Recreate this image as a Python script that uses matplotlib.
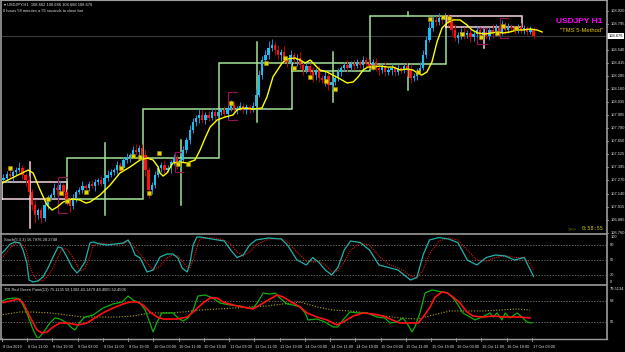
import matplotlib
matplotlib.use("Agg")
import matplotlib.pyplot as plt
import numpy as np
from matplotlib.lines import Line2D

# ---------------- data ----------------
first_open = 107.270
close = [107.293,107.331,107.312,107.351,107.370,107.390,107.322,107.273,107.156,107.030,
         106.933,106.981,106.904,107.030,107.098,107.127,107.195,107.176,107.224,107.156,
         107.079,107.020,107.098,107.156,107.176,107.214,107.195,107.234,107.214,107.253,
         107.273,107.234,107.293,107.322,107.351,107.370,107.419,107.390,107.468,107.487,
         107.516,107.565,107.545,107.584,107.516,107.370,107.176,107.224,107.322,107.390,
         107.419,107.370,107.390,107.448,107.487,107.419,107.468,107.565,107.662,107.760,
         107.837,107.876,107.905,107.857,107.905,107.876,107.934,107.895,107.934,107.954,
         107.915,107.973,108.003,107.954,107.973,107.993,107.954,107.983,107.954,107.993,
         108.100,108.294,108.440,108.489,108.557,108.586,108.538,108.489,108.518,108.440,
         108.421,108.489,108.440,108.460,108.392,108.343,108.382,108.324,108.294,108.343,
         108.265,108.246,108.285,108.197,108.226,108.265,108.324,108.363,108.392,108.363,
         108.401,108.382,108.421,108.392,108.440,108.401,108.382,108.421,108.363,108.343,
         108.382,108.324,108.343,108.363,108.324,108.363,108.343,108.382,108.343,108.265,
         108.285,108.324,108.363,108.489,108.635,108.752,108.830,108.810,108.849,108.830,
         108.859,108.810,108.732,108.654,108.684,108.713,108.684,108.703,108.664,108.693,
         108.732,108.684,108.713,108.674,108.732,108.703,108.752,108.713,108.781,108.732,
         108.761,108.752,108.723,108.761,108.732,108.752,108.713,108.742,108.676]
wick_up = [4,3,5,2,3,6,3,2,4,3, 5,2,3,4,3,2,5,3,4,2, 3,3,4,2,3,5,2,3,4,3,
           2,4,3,5,3,2,4,3,3,5, 2,4,6,3,4,5,3,3,4,2, 3,5,3,2,4,3,2,4,3,5,
           4,3,6,5,3,4,4,3,3,2, 4,3,5,3,2,4,3,3,2,4, 6,5,4,5,7,6,4,5,3,6,
           4,5,3,4,6,3,4,3,5,2, 4,3,5,3,4,3,4,2,3,5, 3,4,3,2,4,3,5,3,4,2,
           3,4,3,5,3,4,2,3,4,5, 3,4,6,5,4,6,5,4,5,3, 4,3,5,6,3,4,5,3,6,3,
           4,3,5,4,3,6,4,3,5,3, 4,3,2,3,4,3,2,3,2]
wick_dn = [3,4,2,5,3,2,4,6,3,5, 8,4,5,3,4,2,3,5,3,4, 5,6,3,4,2,3,4,3,2,5,
           3,2,4,3,2,3,4,3,2,3, 4,3,2,5,4,6,8,4,3,2, 4,3,2,5,3,4,3,2,3,4,
           3,4,5,3,4,3,2,4,3,3, 2,4,3,3,4,2,3,4,3,2, 3,2,4,3,4,3,5,4,6,3,
           5,4,3,6,4,5,3,4,7,5, 4,3,6,5,4,3,3,4,3,4, 3,4,2,3,4,3,2,4,3,5,
           3,4,3,5,4,3,4,3,6,5, 3,4,3,2,3,2,3,4,3,4, 5,4,6,3,5,4,4,3,5,4,
           3,5,4,3,4,5,3,4,3,4, 3,4,3,2,3,4,3,2,2]
bid = 108.676

ma_x = [-0.5,2.1,5.2,7.8,9.4,11.6,13.8,15.4,17.0,18.9,21.7,24.2,26.1,27.4,30.6,33.8,36.9,40.1,
        43.3,45.5,47.4,49.0,49.6,50.6,51.8,53.7,55.9,58.2,60.7,62.3,63.9,65.5,67.7,70.2,72.7,
        74.0,75.9,79.1,81.9,83.5,85.4,88.3,89.9,92.4,94.0,95.6,97.2,98.7,100.3,102.5,104.4,
        106.7,108.9,110.8,112.4,114.0,115.5,117.1,119.3,121.6,123.5,125.7,127.9,129.8,131.1,
        132.6,134.2,135.8,137.4,139.0,140.6,142.5,144.7,146.9,148.5,150.4,152.6,154.8,156.4,
        158.3,160.5,162.8,164.7,166.9,169.1,170.7]
ma_y = [107.244,107.283,107.331,107.370,107.341,107.176,107.030,106.981,107.010,107.059,
        107.088,107.079,107.049,107.059,107.127,107.224,107.341,107.400,107.468,107.487,
        107.468,107.400,107.341,107.312,107.341,107.439,107.448,107.439,107.468,107.565,
        107.682,107.789,107.857,107.886,107.905,107.954,107.973,107.964,107.973,108.080,
        108.275,108.411,108.450,108.460,108.440,108.411,108.440,108.392,108.343,108.324,
        108.294,108.256,108.217,108.226,108.275,108.343,108.372,108.372,108.382,108.372,
        108.372,108.343,108.353,108.343,108.314,108.294,108.324,108.421,108.616,108.752,
        108.800,108.830,108.830,108.781,108.732,108.703,108.693,108.703,108.713,108.703,
        108.713,108.732,108.732,108.742,108.732,108.713]

dot_x = [2.1,14.1,18.2,20.1,26.1,37.2,41.0,43.3,46.1,49.3,55.3,58.5,72.1,83.2,89.2,92.1,
         97.1,102.2,105.1,117.1,131.4,135.2,139.3,141.2,145.3,151.4,156.4,158.3,162.4]
dot_y = [107.390,107.088,107.146,107.069,107.156,107.390,107.507,107.497,107.146,107.536,
         107.429,107.429,108.022,108.411,108.460,108.363,108.275,108.236,108.158,108.372,
         108.324,108.839,108.859,108.849,108.693,108.664,108.703,108.771,108.752]

# daily boxes: x0, x1, top, bottom, kind (1 = up day, 0 = down day)
box_x0 = [-0.5, 20.1, 44.2, 68.3, 91.4, 116.2, 140.3]
box_x1 = [20.1, 44.2, 68.3, 91.4, 116.2, 140.3, 164.3]
box_top = [107.257, 107.487, 107.963, 108.411, 108.411, 108.868, 108.868]
box_bot = [107.088, 107.088, 107.487, 107.963, 108.333, 108.401, 108.761]
box_up = [0, 1, 1, 1, 1, 1, 0]
# daily range sticks
stick_x = [8.4, 32.2, 56.3, 80.4, 104.4, 128.2, 128.2, 152.3]
stick_lo = [106.806, 106.933, 107.030, 107.837, 108.032, 108.868, 108.149, 108.557]
stick_hi = [107.448, 107.633, 107.662, 108.616, 108.518, 108.907, 108.401, 108.752]
stick_up = [0, 1, 1, 1, 1, 1, 1, 0]
# small brackets
br_x0 = [17.3, 54.4, 71.2, 150.1, 157.4]
br_x1 = [20.1, 56.9, 74.0, 153.3, 159.9]
br_top = [107.302, 107.545, 108.129, 108.752, 108.849]
br_bot = [106.952, 107.351, 107.857, 108.596, 108.654]

price_ticks = [108.920,108.795,108.540,108.415,108.285,108.160,108.035,107.905,107.780,
               107.650,107.525,107.395,107.270,107.140,107.015,106.885,106.760]

st_x = [-1.1,0.5,2.1,3.6,5.2,6.2,7.4,8.1,9.4,10.9,12.5,14.1,15.7,17.3,18.5,20.1,21.7,23.3,
        24.2,25.8,27.4,28.4,30.6,32.8,35.3,37.9,39.5,40.7,41.7,43.3,45.5,47.4,49.6,51.8,53.7,
        55.3,56.6,58.2,59.1,60.1,61.3,62.3,
        66,70,72,74,76,78,80,84,88,90,93,96,98,100,102,104,106,108,110,113,116,119,122,125,
        127,129,131,133,135,138,141,144,147,150,153,156,159,162,165,167,168]
st_main = [60,70,82,86,84,70,44,10,6,8,16,34,56,76,74,56,36,24,30,46,84,86,82,80,82,84,90,
           76,60,54,26,30,56,62,62,54,34,26,44,80,96,96,
           92,88,70,55,60,80,90,94,92,80,50,40,55,45,30,20,35,70,88,85,70,40,35,30,20,10,15,
           60,90,95,92,85,50,40,55,60,58,50,55,30,17]
st_sig = [50,62,74,82,85,80,66,42,20,8,9,18,34,56,72,72,58,40,28,32,58,78,84,82,81,83,86,
          84,74,62,44,30,38,54,60,58,48,36,34,50,76,92,
          95,90,82,66,58,66,80,92,93,86,66,48,46,48,40,28,28,46,70,84,80,58,42,34,28,18,14,
          30,62,88,94,90,70,50,48,55,59,55,54,42,28]
st_levels = [80, 50, 20]

tg_x = [-1.1,1.1,3.6,5.2,7.4,9.4,10.9,12.5,14.7,16.3,17.9,20.1,21.7,22.7,24.2,25.8,28.4,31.5,
        34.7,37.6,39.5,41.0,43.3,44.9,46.4,47.4,48.7,50.2,51.8,53.7,55.3,56.9,58.5,60.1,61.6,
        63.9,66.4,68.6,71.8,75.0,77.2,79.1,80.4,82.3,84.5,86.1,87.6,89.9,91.8,94.0,95.6,96.5,
        99.4,101.9,104.4,106.0,107.6,109.8,112.4,115.2,118.4,120.9,122.5,124.7,126.6,128.2,
        129.5,130.4,132.0,133.6,135.8,137.4,139.0,140.9,142.5,144.1,145.6,147.9,149.4,151.7,
        154.2,155.2,156.4,158.0,159.0,160.5,162.8,164.3,165.9,167.5]
tg_v = [66.9,69.5,70.3,69.5,57.5,42.9,35.2,40.3,48.9,53.2,52.3,48.9,44.6,42.9,49.7,54.0,55.7,
        61.7,65.2,66.9,72.0,68.6,66.0,60.0,48.9,41.2,49.7,57.5,57.5,57.5,53.2,50.6,53.2,60.0,
        72.0,72.9,70.3,66.0,64.3,63.5,61.7,61.7,66.0,74.6,73.7,74.6,70.3,65.2,64.3,62.6,57.5,
        51.5,52.3,49.7,45.5,45.5,51.5,58.3,57.5,57.5,54.0,53.2,48.9,49.7,53.2,47.2,41.2,45.5,
        57.5,74.6,77.2,76.3,75.5,74.6,70.3,64.3,57.5,54.0,51.5,54.0,57.5,54.0,57.5,51.5,57.5,
        53.2,57.5,54.0,49.7,48.9]
tr_x = [-1.1,2.1,4.6,6.2,8.4,10.6,12.2,13.8,15.7,17.9,20.1,22.0,23.6,26.5,29.0,31.5,34.7,37.9,
        40.1,42.3,44.2,46.4,48.7,50.6,52.8,55.0,58.2,60.1,63.2,65.5,67.7,69.6,72.7,75.9,79.1,
        82.3,84.5,86.7,88.6,90.8,94.0,96.2,99.4,102.5,105.7,107.6,110.8,114.0,117.1,120.3,
        122.5,125.7,128.9,131.4,133.0,135.2,136.8,139.0,140.6,142.5,144.7,146.9,148.8,152.0,
        155.2,158.3,161.5,163.7,166.9]
tr_v = [66.0,67.7,69.5,66.0,54.0,42.9,40.3,41.2,45.5,48.9,48.9,48.0,47.2,48.9,53.2,57.5,61.7,
        65.2,66.9,66.9,64.3,58.3,54.0,52.3,52.3,52.3,54.0,58.3,66.0,70.3,70.3,66.9,64.3,62.6,
        60.9,66.0,69.5,72.9,71.2,67.7,62.6,57.5,54.0,51.5,47.2,49.7,54.9,57.5,56.6,54.9,52.3,
        48.9,48.9,48.9,54.0,62.6,71.2,75.5,74.6,71.2,66.0,58.3,54.9,54.0,54.9,54.0,54.0,54.0,
        53.2]
ty_x = [-1.1,5.2,9.4,14.7,25.2,30.6,36.0,41.0,46.4,51.8,56.9,62.3,67.7,72.7,78.1,83.5,88.6,
        94.0,99.4,104.4,109.8,115.2,120.3,125.7,131.1,136.1,141.5,146.9,152.0,157.4,162.8,166.9]
ty_v = [55.7,58.3,58.3,57.5,54.0,54.0,54.0,54.9,57.5,57.5,58.3,60.0,60.9,61.7,62.6,63.5,65.2,
        66.9,62.6,60.0,59.2,57.5,54.9,53.2,52.3,55.7,59.2,59.2,59.2,60.0,60.9,60.0]
tdi_levels = [68, 50]

time_idx = [0, 8, 16, 24, 32, 40, 48, 56, 64, 72, 80, 88, 96, 104, 112, 120, 128, 136, 144,
            152, 160, 168]
time_labels = ["8 Oct 2019", "8 Oct 11:00", "8 Oct 19:00", "9 Oct 03:00", "9 Oct 11:00",
               "9 Oct 19:00", "10 Oct 03:00", "10 Oct 11:00", "10 Oct 19:00", "11 Oct 03:00",
               "11 Oct 11:00", "11 Oct 19:00", "14 Oct 03:00", "14 Oct 11:00", "14 Oct 19:00",
               "15 Oct 03:00", "15 Oct 11:00", "15 Oct 19:00", "16 Oct 03:00", "16 Oct 11:00",
               "16 Oct 19:00", "17 Oct 03:00"]

# ---------------- figure ----------------
W, H = 625, 352
fig = plt.figure(figsize=(W / 100, H / 100), dpi=100, facecolor='black')

def px_axes(x0, y0, x1, y1):
    a = fig.add_axes([x0 / W, 1 - y1 / H, (x1 - x0) / W, (y1 - y0) / H])
    a.set_facecolor('black')
    a.axis('off')
    a.set_xlim(-0.475, 190.96)
    return a

def fline(xs, ys, **kw):
    fig.add_artist(Line2D([x / W for x in xs], [1 - y / H for y in ys],
                          transform=fig.transFigure, **kw))

ax = px_axes(2, 1, 606, 233.5)
ax.set_ylim(106.753, 109.014)
ax_st = px_axes(2, 235, 606, 285)
ax_st.set_ylim(0, 100)
ax_td = px_axes(2, 286, 606, 338)
ax_td.set_ylim(36.03, 80.6)

SMALL = 2.9
TXT = '#e0e0e0'
FONT = 'Liberation Sans'

# bid line
ax.axhline(bid, color='#3a3a3a', lw=0.8, zorder=1)

# daily boxes & sticks
GREEN = '#a3e296'
PINK = '#f3d6df'
for x0, x1, t, b, u in zip(box_x0, box_x1, box_top, box_bot, box_up):
    c = GREEN if u else PINK
    ax.plot([x0, x0, x1, x1, x0], [b, t, t, b, b], color=c, lw=1.1, zorder=2,
            solid_joinstyle='miter')
for x, lo, hi, u in zip(stick_x, stick_lo, stick_hi, stick_up):
    ax.plot([x, x], [lo, hi], color=GREEN if u else PINK, lw=1.1, zorder=2)
for x0, x1, t, b in zip(br_x0, br_x1, br_top, br_bot):
    ax.plot([x1, x0, x0, x1], [t, t, b, b], color='#8a1550', lw=0.9, zorder=2)

# candles
close_a = np.array(close)
idx = np.arange(len(close_a))
opn = np.r_[first_open, close_a[:-1]]
hi = np.maximum(opn, close_a) + np.array(wick_up) * 0.01
lo = np.minimum(opn, close_a) - np.array(wick_dn) * 0.01
bull = close_a >= opn
body_c = np.where(bull, '#18c0f5', '#ff1010')
wick_c = np.where(bull, '#1e90e0', '#c00000')
ax.vlines(idx, lo, hi, colors=wick_c, lw=0.7, zorder=3)
heights = np.maximum(np.abs(close_a - opn), 0.005)
ax.bar(idx, heights, bottom=np.minimum(opn, close_a), width=0.72, color=body_c,
       edgecolor='none', zorder=4)

# MA line and dots
ax.plot(ma_x, ma_y, color='#ffff00', lw=1.0, zorder=5)
ax.plot(dot_x, dot_y, ls='none', marker='s', ms=2.6, mfc='#e8d200', mec='#a08c00',
        mew=0.4, zorder=6)

# price axis labels
yt = ax.get_yaxis_transform()
for p in price_ticks:
    ax.text(1.007, p, f"{p:.3f}", transform=yt, fontsize=SMALL, color=TXT,
            va='center', ha='left', family=FONT, clip_on=False)
    ax.plot([1.0, 1.004], [p, p], transform=yt, color='#9a9a9a', lw=0.6, clip_on=False)
ax.text(1.004, bid, f"{bid:.3f}", transform=yt, fontsize=SMALL, color='black',
        va='center', ha='left', family=FONT, clip_on=False,
        bbox=dict(facecolor='white', edgecolor='none', pad=0.7))

# titles and labels in main chart
fig.text(4 / W, 1 - 5 / H, "\u25be USDJPY,H1  108.662 108.686 108.668 108.676",
         fontsize=SMALL, color=TXT, va='center', ha='left', family=[FONT, 'DejaVu Sans'])
fig.text(3 / W, 1 - 11 / H, "0 hours 58 minutes a 55 seconds to close bar",
         fontsize=SMALL, color=TXT, va='center', ha='left', family=FONT)
fig.text(602 / W, 1 - 21.5 / H, "USDJPY H1", fontsize=6.0, color='#ff00ff',
         fontweight='bold', va='center', ha='right', family='Liberation Sans')
fig.text(603 / W, 1 - 31 / H, "\"TMS 5-Method\"", fontsize=4.2, color='#e5c400',
         va='center', ha='right', family='Liberation Sans')
fig.text(568 / W, 1 - 229 / H, ">>>", fontsize=3.6, color='#6d6d00',
         va='center', ha='left', family='DejaVu Sans Mono')
fig.text(603 / W, 1 - 229 / H, "0:58:55", fontsize=3.8, color='#c8c800',
         va='center', ha='right', family='DejaVu Sans Mono')

# stochastic panel
for lv in st_levels:
    ax_st.axhline(lv, color='#8a8a8a', lw=0.5, ls=(0, (2, 2)))
ax_st.plot(st_x, st_sig, color='#e01010', lw=0.8, ls=(0, (1, 1)))
ax_st.plot(st_x, st_main, color='#20b2aa', lw=0.9)
ax_st.text(0.004, 0.93, "Stoch(5,3,3) 16.7976 28.2748", transform=ax_st.transAxes,
           fontsize=SMALL, color=TXT, va='top', ha='left', family=FONT)
yts = ax_st.get_yaxis_transform()
for v, lab in [(96, "100"), (80, "80"), (50, "50"), (20, "20"), (6, "0")]:
    ax_st.text(1.007, v, lab, transform=yts, fontsize=SMALL, color=TXT, va='center',
               ha='left', family=FONT, clip_on=False)

# TDI panel
for lv in tdi_levels:
    ax_td.axhline(lv, color='#8a8a8a', lw=0.5, ls=(0, (2, 2)))
ax_td.plot(ty_x, ty_v, color='#b4a820', lw=0.8, ls=(0, (1, 1.5)))
ax_td.plot(tg_x, tg_v, color='#10b010', lw=0.9)
ax_td.plot(tr_x, tr_v, color='#ff1010', lw=1.2)
ax_td.text(0.004, 0.96, "TDI Red Green Point(13) 75.1135 59.1302 43.1479 48.4005 52.4506",
           transform=ax_td.transAxes, fontsize=SMALL, color=TXT, va='top', ha='left',
           family=FONT)
ytt = ax_td.get_yaxis_transform()
for v, lab in [(77.9, "79.5134"), (68, "68"), (50, "50")]:
    ax_td.text(1.007, v, lab, transform=ytt, fontsize=SMALL, color=TXT, va='center',
               ha='left', family=FONT, clip_on=False)

# time axis
xt = ax_td.get_xaxis_transform()
for i, lab in zip(time_idx, time_labels):
    ax_td.plot([i - 0.5, i - 0.5], [0, -0.06], transform=xt, color='#9a9a9a', lw=0.6,
               clip_on=False)
    ax_td.text(i - 0.3, -0.17, lab, transform=xt, fontsize=2.8, color=TXT, va='center',
               ha='left', family=FONT, clip_on=False)

# frame lines
G = '#9c9c9c'
fline([0, 606], [234.3, 234.3], color=G, lw=1.2)
fline([0, 606], [285.4, 285.4], color=G, lw=1.2)
fline([606.5, 606.5], [0, 339], color=G, lw=1.2)
fline([0, 606.5], [338.6, 338.6], color=G, lw=1.0)
fline([0.6, 0.6], [0, 338.6], color=G, lw=1.2)
fline([0, 606.5], [0.4, 0.4], color=G, lw=0.8)

fig.savefig("out.png", dpi=100, facecolor='black')
